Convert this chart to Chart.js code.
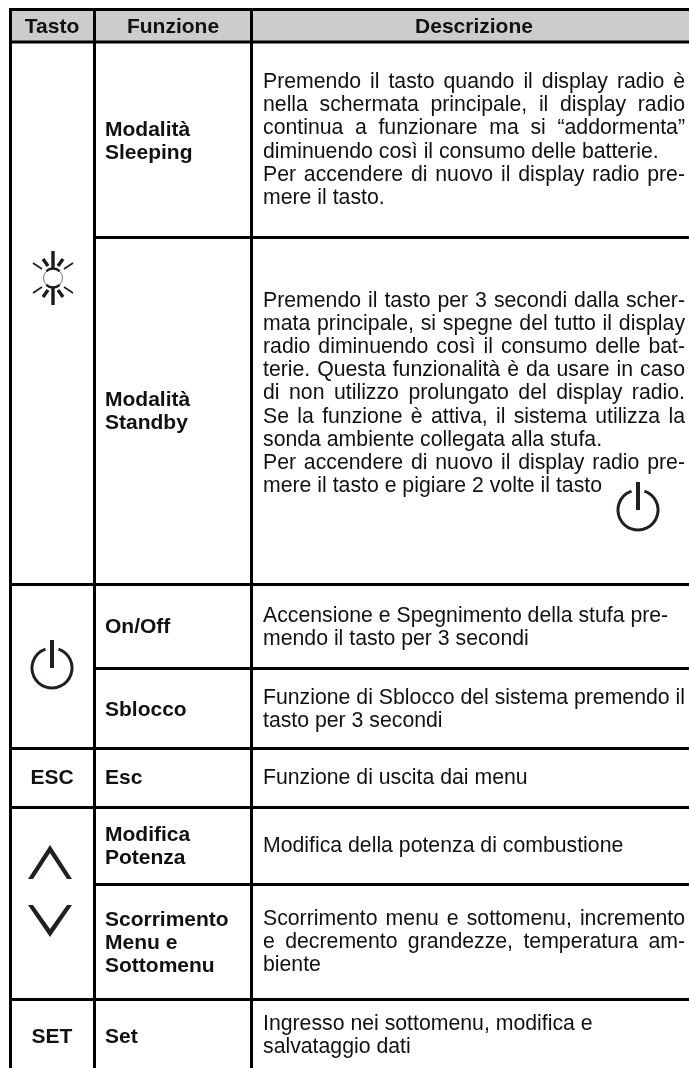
<!DOCTYPE html>
<html>
<head>
<meta charset="utf-8">
<title>Tasti</title>
<script src="https://cdn.jsdelivr.net/npm/chart.js@4"></script>
<style>
  html, body { margin: 0; padding: 0; background: #fff; }
  canvas { display: block; }
</style>
</head>
<body>
<canvas id="table" width="689" height="1068"></canvas>
<script>
// table contents
const headers = ["Tasto", "Funzione", "Descrizione"];
const keyLabels = ["ESC", "SET"];
const functionNames = [
  ["Modalità", "Sleeping"],
  ["Modalità", "Standby"],
  ["On/Off"],
  ["Sblocco"],
  ["Esc"],
  ["Modifica", "Potenza"],
  ["Scorrimento", "Menu e", "Sottomenu"],
  ["Set"]
];
// the * marks a line set flush to both margins
const descriptions = [
  ["*Premendo il tasto quando il display radio è", "*nella schermata principale, il display radio", "*continua a funzionare ma si “addormenta”", "diminuendo così il consumo delle batterie.", "*Per accendere di nuovo il display radio pre-", "mere il tasto."],
  ["*Premendo il tasto per 3 secondi dalla scher-", "*mata principale, si spegne del tutto il display", "*radio diminuendo così il consumo delle bat-", "*terie. Questa funzionalità è da usare in caso", "*di non utilizzo prolungato del display radio.", "*Se la funzione è attiva, il sistema utilizza la", "sonda ambiente collegata alla stufa.", "*Per accendere di nuovo il display radio pre-", "mere il tasto e pigiare 2 volte il tasto"],
  ["Accensione e Spegnimento della stufa pre-", "mendo il tasto per 3 secondi"],
  ["*Funzione di Sblocco del sistema premendo il", "tasto per 3 secondi"],
  ["Funzione di uscita dai menu"],
  ["Modifica della potenza di combustione"],
  ["*Scorrimento menu e sottomenu, incremento", "*e decremento grandezze, temperatura am-", "biente"],
  ["Ingresso nei sottomenu, modifica e", "salvataggio dati"]
];

// rules of the table, read in page units
const colRules = [10.5, 94.5, 251.5];
const fullRowRules = [9.5, 42, 584.5, 748.5, 807.5, 999.5];
const innerRowRules = [237.5, 668.5, 884.5];

const INK = "#000";
const TEXT = "#111";
const GLYPH = "#231f20";
const FONT = '"Liberation Sans", Arial, sans-serif';
const BODY_SIZE = 21.25;
const BOLD_SIZE = 21;
const LINE = 23.2;
const FUNC_LINE = 23;
const funcFirst = [136, 406, 633, 716, 784, 841, 926, 1043];
const descFirst = [88, 306.5, 622, 704, 784, 852, 925, 1030];
const TEXT_LEFT = 263;
const TEXT_RIGHT = 685;

const ruleSets = [
  ...colRules.map(x => ({ x0: x, y0: 8, x1: x, y1: 1068 })),
  ...fullRowRules.map(y => ({ x0: 9, y0: y, x1: 689, y1: y })),
  ...innerRowRules.map(y => ({ x0: 94.5, y0: y, x1: 689, y1: y }))
];

function drawPower(ctx, cx, cy) {
  const r = 20;
  ctx.strokeStyle = GLYPH;
  ctx.lineWidth = 3;
  ctx.beginPath();
  ctx.arc(cx, cy, r, -Math.PI / 2 + 0.33, -Math.PI / 2 - 0.33 + Math.PI * 2);
  ctx.stroke();
  ctx.lineWidth = 4;
  ctx.beginPath();
  ctx.moveTo(cx, cy - 28);
  ctx.lineTo(cx, cy);
  ctx.stroke();
}

function drawChevron(ctx, cx, tipY, endY) {
  const dir = endY > tipY ? 1 : -1;
  ctx.fillStyle = GLYPH;
  ctx.beginPath();
  ctx.moveTo(cx - 22, endY);
  ctx.lineTo(cx, tipY);
  ctx.lineTo(cx + 22, endY);
  ctx.lineTo(cx + 17, endY);
  ctx.lineTo(cx, tipY + dir * 8);
  ctx.lineTo(cx - 17, endY);
  ctx.closePath();
  ctx.fill();
}

function drawSun(ctx, cx, cy) {
  ctx.strokeStyle = "#1a1a1a";
  // ring, heavy at top and bottom
  ctx.lineWidth = 0.6;
  ctx.beginPath();
  ctx.arc(cx, cy, 9.5, 0, Math.PI * 2);
  ctx.stroke();
  ctx.lineWidth = 2.4;
  ctx.beginPath();
  ctx.arc(cx, cy, 9.5, -Math.PI + 0.8, -0.8);
  ctx.stroke();
  ctx.beginPath();
  ctx.arc(cx, cy, 9.5, 0.8, Math.PI - 0.8);
  ctx.stroke();
  // rays
  const rays = [
    [0, -27, 0, -10, 3.4],
    [-10, -19, -5, -12, 3.4],
    [10, -19, 5, -12, 3.4],
    [-20, -15, -11, -9, 1.6],
    [20, -15, 11, -9, 1.6]
  ];
  rays.forEach(([a, b, c, d, w]) => {
    ctx.lineWidth = w;
    [1, -1].forEach(s => {
      ctx.beginPath();
      ctx.moveTo(cx + a, cy + s * b);
      ctx.lineTo(cx + c, cy + s * d);
      ctx.stroke();
    });
  });
}

const tablePlugin = {
  id: "tableText",
  beforeDatasetsDraw(chart) {
    const { ctx, scales: { x, y } } = chart;
    const px = v => x.getPixelForValue(v);
    const py = v => y.getPixelForValue(v);
    ctx.save();
    ctx.fillStyle = "#cccccc";
    ctx.fillRect(px(colRules[0]), py(fullRowRules[0]), px(689) - px(colRules[0]), py(fullRowRules[1]) - py(fullRowRules[0]));
    ctx.restore();
  },
  afterDatasetsDraw(chart) {
    const { ctx, scales: { x, y } } = chart;
    const px = v => x.getPixelForValue(v);
    const py = v => y.getPixelForValue(v);
    ctx.save();
    ctx.fillStyle = TEXT;
    ctx.textBaseline = "alphabetic";

    ctx.font = `bold ${BOLD_SIZE}px ${FONT}`;
    ctx.textAlign = "center";
    [52, 173, 474].forEach((cx, i) => ctx.fillText(headers[i], px(cx), py(33)));
    ctx.fillText(keyLabels[0], px(52), py(784));
    ctx.fillText(keyLabels[1], px(52), py(1043));

    ctx.textAlign = "left";
    functionNames.forEach((lines, r) => {
      lines.forEach((t, i) => ctx.fillText(t, px(105), py(funcFirst[r] + i * FUNC_LINE)));
    });

    ctx.font = `${BODY_SIZE}px ${FONT}`;
    descriptions.forEach((lines, r) => {
      lines.forEach((raw, i) => {
        const flush = raw[0] === "*";
        const t = flush ? raw.slice(1) : raw;
        ctx.wordSpacing = "0px";
        if (flush) {
          const gaps = t.split(" ").length - 1;
          const extra = (px(TEXT_RIGHT) - px(TEXT_LEFT) - ctx.measureText(t).width) / gaps;
          ctx.wordSpacing = `${extra}px`;
        }
        ctx.fillText(t, px(TEXT_LEFT), py(descFirst[r] + i * LINE));
      });
    });
    ctx.wordSpacing = "0px";

    drawSun(ctx, px(53), py(278));
    drawPower(ctx, px(52), py(668));
    drawPower(ctx, px(638), py(510));
    drawChevron(ctx, px(50), py(845), py(879));
    drawChevron(ctx, px(50), py(937), py(905));
    ctx.restore();
  }
};

new Chart(document.getElementById("table"), {
  type: "scatter",
  data: {
    datasets: ruleSets.map(r => ({
      data: [{ x: r.x0, y: r.y0 }, { x: r.x1, y: r.y1 }],
      showLine: true,
      borderColor: INK,
      borderWidth: 3,
      pointRadius: 0
    }))
  },
  options: {
    responsive: false,
    animation: false,
    layout: { padding: 0 },
    plugins: { legend: { display: false }, tooltip: { enabled: false } },
    scales: {
      x: { type: "linear", display: false, min: 0, max: 689 },
      y: { type: "linear", display: false, min: 0, max: 1068, reverse: true }
    }
  },
  plugins: [tablePlugin]
});
</script>
</body>
</html>
